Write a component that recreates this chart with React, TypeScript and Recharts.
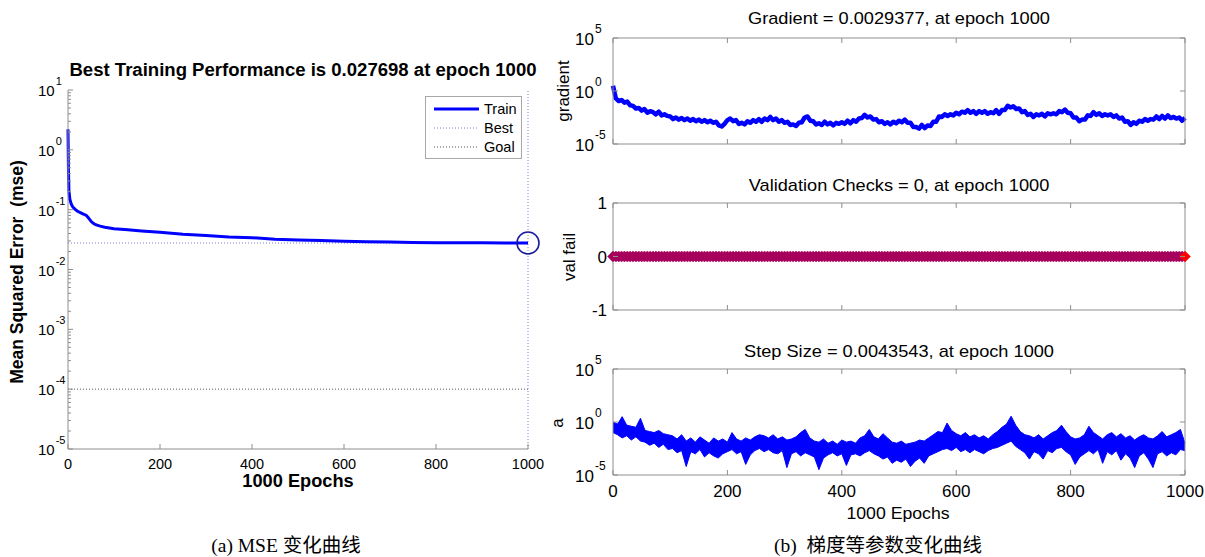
import React from 'react';
import { LineChart, ComposedChart, Line, Area, XAxis, YAxis, ReferenceLine, ReferenceDot } from 'recharts';

const FONT = '"Liberation Sans", Arial, Helvetica, sans-serif';
const SERIF = '"Liberation Serif", "Times New Roman", "Noto Sans CJK SC", serif';
const AXIS_GREY = '#8e8e8e';
const BLUE = '#0000ff';

// (a) training performance
const mseEpochs = [0, 1, 2, 4, 7, 10, 15, 20, 30, 40, 45, 50, 55, 60, 70, 80, 100, 130, 160, 200, 250, 300, 350, 400, 450, 500, 550, 600, 650, 700, 750, 800, 850, 900, 950, 1000];
const mseTrain = [2.2, 0.45, 0.21, 0.15, 0.125, 0.112, 0.102, 0.095, 0.087, 0.08, 0.072, 0.064, 0.059, 0.056, 0.053, 0.051, 0.048, 0.046, 0.044, 0.042, 0.039, 0.037, 0.035, 0.034, 0.032, 0.031, 0.0305, 0.0298, 0.0292, 0.0288, 0.0284, 0.0281, 0.028, 0.0279, 0.0278, 0.027698];
const bestMse = 0.027698;
const bestEpoch = 1000;
const goalMse = 1e-4;

// (b) gradient, log10, one sample every 5 epochs
const gradEvery = 5;
const gradientLog10 = [
  0.5, -0.7, -0.95, -0.85, -1.1, -1.0, -1.35, -1.4, -1.65, -1.6, -1.85, -1.7, -2.05, -1.9, -2.0, -2.2, -1.95, -2.3, -2.2, -2.35,
  -2.4, -2.65, -2.5, -2.7, -2.55, -2.75, -2.6, -2.8, -2.65, -2.85, -2.7, -2.9, -2.75, -2.95, -2.8, -3.0, -2.9, -3.25, -3.35, -3.1,
  -2.75, -2.6, -2.85, -2.75, -3.1, -3.0, -3.15, -2.85, -3.0, -2.75, -2.9, -2.65, -2.9, -2.6, -2.75, -2.45, -2.75, -2.6, -2.9, -2.75,
  -3.0, -2.9, -3.2, -3.15, -3.3, -3.0, -2.95, -2.5, -2.4, -2.8, -2.85, -3.15, -3.05, -3.2, -2.9, -3.15, -3.0, -3.25, -3.0, -3.1,
  -2.95, -3.1, -2.8, -3.05, -2.75, -2.9, -2.6, -2.55, -2.25, -2.5, -2.4, -2.7, -2.65, -2.95, -2.85, -3.1, -2.95, -3.15, -2.9, -3.05,
  -2.8, -2.95, -2.7, -3.0, -3.0, -3.4, -3.4, -3.55, -3.2, -3.5, -3.25, -3.3, -2.9, -2.9, -2.4, -2.45, -2.2, -2.35, -2.2, -2.3,
  -2.05, -2.2, -1.95, -2.05, -1.8, -2.05, -1.9, -2.15, -1.9, -2.05, -1.9, -2.15, -2.0, -2.1, -1.8, -2.15, -1.8, -1.8, -1.4, -1.55,
  -1.45, -1.7, -1.65, -2.0, -1.9, -2.25, -2.15, -2.45, -2.2, -2.3, -2.15, -2.4, -2.1, -2.2, -2.1, -2.2, -1.9, -2.0, -1.75, -2.05,
  -2.1, -2.5, -2.5, -2.85, -2.7, -2.7, -2.3, -2.35, -2.0, -2.25, -2.1, -2.35, -2.2, -2.3, -2.2, -2.45, -2.3, -2.6, -2.5, -2.9,
  -2.85, -3.2, -2.95, -3.1, -2.8, -2.9, -2.65, -2.8, -2.65, -2.7, -2.4, -2.65, -2.35, -2.6, -2.3, -2.55, -2.45, -2.6, -2.5, -2.8,
  -2.53,
];

// (b) step size, log10, upper and lower swing every 8 epochs
const stepEvery = 8;
const stepHighLog10 = [
  0.0, -0.2, 0.5, -0.3, -0.4, -0.5, 0.35, -0.8, -0.9, -1.0, -0.8, -1.1, -1.2,
  -1.3, -1.6, -1.2, -1.8, -1.5, -1.9, -1.4, -1.7, -2.0, -1.5, -1.8, -1.6, -1.9,
  -1.0, -1.6, -1.8, -1.5, -1.7, -1.4, -1.2, -1.3, -1.5, -1.2, -1.6, -1.4, -1.7,
  -1.6, -1.4, -1.0, -0.7, -1.5, -1.8, -1.9, -1.6, -2.0, -1.8, -2.1, -1.7, -1.9,
  -1.8, -2.0, -1.5, -1.3, -0.7, -1.4, -1.6, -1.1, -1.5, -1.9, -2.0, -1.8, -2.1,
  -2.0, -1.9, -1.7, -1.8, -1.5, -1.2, -0.9, -1.0, -0.1, -0.8, -1.1, -1.3, -1.0,
  -1.4, -1.2, -1.5, -1.3, -1.6, -1.2, -0.9, -0.5, -0.2, 0.55, -0.3, -0.9, -1.2,
  -1.3, -1.5, -1.2, -1.6, -1.3, -1.0, -0.8, -0.3, -0.9, -1.4, -1.6, -1.5, -1.2,
  -0.4, -1.0, -1.3, -1.6, -1.2, -1.0, -1.4, -1.1, -1.5, -1.3, -1.7, -1.4, -1.2,
  -1.5, -1.6, -1.3, -0.9, -1.4, -1.2, -1.0, -0.7,
  -2.0,
];
const stepLowLog10 = [
  -1.0, -1.2, -1.5, -1.3, -1.7, -1.4, -1.8, -1.9, -2.2, -2.0, -2.4, -2.1, -2.6,
  -2.5, -2.9, -2.7, -4.2, -2.8, -3.0, -2.6, -3.3, -2.9, -3.2, -3.4, -3.0, -2.8,
  -2.6, -3.0, -2.8, -4.0, -3.1, -2.7, -2.5, -2.8, -2.6, -2.9, -3.0, -2.7, -4.3,
  -3.0, -2.8, -3.2, -2.9, -3.1, -3.3, -4.5, -3.4, -3.1, -2.9, -3.2, -3.0, -4.1,
  -3.1, -3.0, -3.2, -2.9, -2.7, -3.0, -3.2, -3.5, -3.3, -3.9, -3.6, -3.8, -3.5,
  -4.2, -3.7, -3.4, -3.9, -3.2, -3.0, -2.8, -2.6, -2.5, -2.7, -2.4, -2.8, -2.6,
  -2.9, -2.6, -2.8, -3.0, -2.7, -2.5, -2.4, -2.2, -2.0, -1.8, -2.3, -2.6, -2.9,
  -3.5, -2.8, -3.0, -3.5, -2.7, -2.9, -2.5, -2.4, -2.8, -3.1, -4.0, -3.3, -3.0,
  -2.7, -3.0, -2.6, -3.9, -2.8, -3.1, -2.7, -3.6, -3.0, -3.4, -4.3, -3.2, -2.9,
  -3.5, -4.3, -3.0, -2.8, -3.2, -2.9, -3.1, -2.6,
  -2.7,
];

// (b) validation checks, one sample every 5 epochs
const valEvery = 5;
const valFail = [
  0, 0, 0, 0, 0, 0, 0, 0, 0, 0, 0, 0, 0, 0, 0, 0, 0, 0, 0, 0,
  0, 0, 0, 0, 0, 0, 0, 0, 0, 0, 0, 0, 0, 0, 0, 0, 0, 0, 0, 0,
  0, 0, 0, 0, 0, 0, 0, 0, 0, 0, 0, 0, 0, 0, 0, 0, 0, 0, 0, 0,
  0, 0, 0, 0, 0, 0, 0, 0, 0, 0, 0, 0, 0, 0, 0, 0, 0, 0, 0, 0,
  0, 0, 0, 0, 0, 0, 0, 0, 0, 0, 0, 0, 0, 0, 0, 0, 0, 0, 0, 0,
  0, 0, 0, 0, 0, 0, 0, 0, 0, 0, 0, 0, 0, 0, 0, 0, 0, 0, 0, 0,
  0, 0, 0, 0, 0, 0, 0, 0, 0, 0, 0, 0, 0, 0, 0, 0, 0, 0, 0, 0,
  0, 0, 0, 0, 0, 0, 0, 0, 0, 0, 0, 0, 0, 0, 0, 0, 0, 0, 0, 0,
  0, 0, 0, 0, 0, 0, 0, 0, 0, 0, 0, 0, 0, 0, 0, 0, 0, 0, 0, 0,
  0, 0, 0, 0, 0, 0, 0, 0, 0, 0, 0, 0, 0, 0, 0, 0, 0, 0, 0, 0,
  0,
];

const epochTicks = [0, 200, 400, 600, 800, 1000];
const mseDecades = [-5, -4, -3, -2, -1, 0, 1];
const logTicks5 = [1e-5, 1, 1e5];
const valTicks = [-1, 0, 1];

// log axis ticks incl. the minor ones between decades
const mseTicks: number[] = [];
mseDecades.forEach((d) => {
  for (let m = 1; m <= 9; m++) {
    if (d === 1 && m > 1) break;
    mseTicks.push(m * Math.pow(10, d));
  }
});

const mseData = mseEpochs.map((epoch, i) => ({ epoch, train: mseTrain[i] }));
const gradData = gradientLog10.map((v, i) => ({ epoch: i * gradEvery, gradient: Math.pow(10, v) }));
const stepData = stepHighLog10.map((v, i) => ({
  epoch: Math.min(i * stepEvery, 1000),
  step: [Math.pow(10, stepLowLog10[i]), Math.pow(10, v)],
}));
const valData = valFail.map((v, i) => ({ epoch: i * valEvery, val: v }));

const isDecade = (v: number) => {
  const l = Math.log10(v);
  return Math.abs(l - Math.round(l)) < 1e-6;
};

// ---- tick renderers (MATLAB style: ticks point into the plot) ----
const MseYTick = (props: any) => {
  const { x, y, payload } = props;
  const major = isDecade(payload.value);
  const exp = Math.round(Math.log10(payload.value));
  return (
    <g>
      <line x1={x} x2={x + (major ? 5 : 3)} y1={y} y2={y} stroke={AXIS_GREY} strokeWidth={1} />
      {major && (
        <text x={x - 30} y={y + 6} fontSize={15} fontFamily={FONT} fill="#000">
          10<tspan dx={1} dy={-11} fontSize={11}>{exp}</tspan>
        </text>
      )}
    </g>
  );
};

const MseXTick = (props: any) => {
  const { x, y, payload } = props;
  return (
    <g>
      <line x1={x} x2={x} y1={y} y2={y - 5} stroke={AXIS_GREY} />
      <text x={x} y={y + 20} textAnchor="middle" fontSize={14.5} fontFamily={FONT} fill="#000">
        {payload.value}
      </text>
    </g>
  );
};

const BottomTick = (showLabel: boolean) => (props: any) => {
  const { x, y, payload } = props;
  return (
    <g>
      <line x1={x} x2={x} y1={y} y2={y - 5} stroke={AXIS_GREY} />
      {showLabel && (
        <text x={x} y={y + 22} textAnchor="middle" fontSize={17} fontFamily={FONT} fill="#000">
          {payload.value}
        </text>
      )}
    </g>
  );
};

const TopTick = (props: any) => {
  const { x, y } = props;
  return <line x1={x} x2={x} y1={y} y2={y + 5} stroke={AXIS_GREY} />;
};

const RightTick = (props: any) => {
  const { x, y } = props;
  return <line x1={x} x2={x - 5} y1={y} y2={y} stroke={AXIS_GREY} />;
};

const LogYTick = (props: any) => {
  const { x, y, payload } = props;
  const exp = Math.round(Math.log10(payload.value));
  return (
    <g>
      <line x1={x} x2={x + 5} y1={y} y2={y} stroke={AXIS_GREY} />
      <text x={x - 38} y={y + 7} fontSize={17} fontFamily={FONT} fill="#000">
        10<tspan dx={1} dy={-12} fontSize={12}>{exp}</tspan>
      </text>
    </g>
  );
};

const ValYTick = (props: any) => {
  const { x, y, payload } = props;
  return (
    <g>
      <line x1={x} x2={x + 5} y1={y} y2={y} stroke={AXIS_GREY} />
      <text x={x - 6} y={y + 6} textAnchor="end" fontSize={17} fontFamily={FONT} fill="#000">
        {payload.value}
      </text>
    </g>
  );
};

const Diamond = (props: any) => {
  const { cx, cy, index } = props;
  const last = index === valFail.length - 1;
  const r = 5.5;
  const c = last ? '#ff0000' : '#a6005c';
  return (
    <path
      key={`d${index}`}
      d={`M${cx - r},${cy}L${cx},${cy - r}L${cx + r},${cy}L${cx},${cy + r}Z`}
      fill={c}
      stroke={c}
      strokeWidth={0.5}
    />
  );
};

// frame for the right-hand subplots: box with inward ticks on all sides
const frame = (yProps: any, yTick: any, showXLabels: boolean) => [
  <XAxis
    key="xb"
    dataKey="epoch"
    type="number"
    domain={[0, 1000]}
    ticks={epochTicks}
    interval={0}
    height={1}
    tickSize={0}
    tickMargin={0}
    tickLine={false}
    axisLine={{ stroke: AXIS_GREY }}
    tick={BottomTick(showXLabels)}
  />,
  <XAxis
    key="xt"
    xAxisId="top"
    orientation="top"
    dataKey="epoch"
    type="number"
    domain={[0, 1000]}
    ticks={epochTicks}
    interval={0}
    height={1}
    tickSize={0}
    tickMargin={0}
    tickLine={false}
    axisLine={{ stroke: AXIS_GREY }}
    tick={TopTick}
  />,
  <YAxis
    key="yl"
    {...yProps}
    width={40}
    interval={0}
    tickSize={0}
    tickMargin={0}
    tickLine={false}
    axisLine={{ stroke: AXIS_GREY }}
    tick={yTick}
  />,
  <YAxis
    key="yr"
    yAxisId="right"
    orientation="right"
    {...yProps}
    width={1}
    interval={0}
    tickSize={0}
    tickMargin={0}
    tickLine={false}
    axisLine={{ stroke: AXIS_GREY }}
    tick={RightTick}
  />,
];

const logY = { type: 'number', scale: 'log', domain: [1e-5, 1e5], ticks: logTicks5, allowDataOverflow: true };
const linY = { type: 'number', domain: [-1, 1], ticks: valTicks, allowDataOverflow: true };

const Txt = (p: {
  x: number;
  y: number;
  size: number;
  bold?: boolean;
  rotate?: boolean;
  stretch?: number;
  family?: string;
  children: React.ReactNode;
}) => (
  <div
    style={{
      position: 'absolute',
      left: p.x,
      top: p.y,
      transform: `translate(-50%, -50%) scaleX(${p.stretch || 1})${p.rotate ? ' rotate(-90deg)' : ''}`,
      whiteSpace: 'pre',
      fontSize: p.size,
      fontWeight: p.bold ? 700 : 400,
      fontFamily: p.family || FONT,
      lineHeight: 1,
      color: '#000',
    }}
  >
    {p.children}
  </div>
);

const RIGHT_LEFT = 540;
const RIGHT_W = 665;
const rightMargin = (top: number, bottom: number) => ({ top, right: 19, bottom, left: 33 });

export default function App() {
  return (
    <div style={{ position: 'absolute', left: 0, top: 0, width: 1205, height: 557, background: '#fff', overflow: 'hidden' }}>
      {/* (a) MSE */}
      <div style={{ position: 'absolute', left: 0, top: 0 }}>
        <LineChart width={560} height={500} data={mseData} margin={{ top: 90, right: 32, bottom: 20, left: 8 }}>
          <XAxis
            dataKey="epoch"
            type="number"
            domain={[0, 1000]}
            ticks={epochTicks}
            interval={0}
            height={31}
            tickSize={0}
            tickMargin={0}
            tickLine={false}
            axisLine={{ stroke: AXIS_GREY }}
            tick={MseXTick}
          />
          <YAxis
            type="number"
            scale="log"
            domain={[1e-5, 10]}
            ticks={mseTicks}
            allowDataOverflow
            interval={0}
            width={60}
            tickSize={0}
            tickMargin={0}
            tickLine={false}
            axisLine={{ stroke: AXIS_GREY }}
            tick={MseYTick}
          />
          <ReferenceLine y={goalMse} stroke="#555555" strokeDasharray="1 2" strokeWidth={1} />
          <ReferenceLine y={bestMse} stroke="#7a7ad6" strokeDasharray="1 2" strokeWidth={1} />
          <ReferenceLine x={bestEpoch} stroke="#7a7ad6" strokeDasharray="1 2" strokeWidth={1} />
          <Line
            dataKey="train"
            stroke={BLUE}
            strokeWidth={3}
            dot={false}
            type="linear"
            isAnimationActive={false}
          />
          <ReferenceDot x={bestEpoch} y={bestMse} r={11} fill="none" stroke="#1a1aa0" strokeWidth={1.6} />
        </LineChart>
      </div>

      {/* legend of (a) */}
      <div
        style={{
          position: 'absolute',
          left: 425,
          top: 96,
          width: 95,
          height: 61,
          border: '1px solid #a8a8a8',
          background: '#fff',
        }}
      >
        <svg width={95} height={61} style={{ position: 'absolute', left: 0, top: 0 }}>
          <line x1={8} x2={53} y1={12} y2={12} stroke={BLUE} strokeWidth={3} />
          <line x1={8} x2={53} y1={31} y2={31} stroke="#7a7ad6" strokeDasharray="1 2" />
          <line x1={8} x2={53} y1={50} y2={50} stroke="#555555" strokeDasharray="1 2" />
          <text x={58} y={17} fontSize={14.5} fontFamily={FONT}>Train</text>
          <text x={58} y={36} fontSize={14.5} fontFamily={FONT}>Best</text>
          <text x={58} y={55} fontSize={14.5} fontFamily={FONT}>Goal</text>
        </svg>
      </div>

      <Txt x={303} y={71} size={17.5} bold stretch={1.06}>Best Training Performance is 0.027698 at epoch 1000</Txt>
      <Txt x={18} y={272} size={17.5} bold rotate>Mean Squared Error  (mse)</Txt>
      <Txt x={298} y={482} size={17.5} bold stretch={1.04}>1000 Epochs</Txt>

      {/* (b) gradient */}
      <div style={{ position: 'absolute', left: RIGHT_LEFT, top: 0 }}>
        <LineChart width={RIGHT_W} height={160} data={gradData} margin={rightMargin(37, 15)}>
          {frame(logY, LogYTick, false)}
          <Line
            dataKey="gradient"
            stroke={BLUE}
            strokeWidth={4.5}
            strokeLinejoin="round"
            dot={false}
            type="linear"
            isAnimationActive={false}
          />
        </LineChart>
      </div>
      <Txt x={899} y={18} size={17} stretch={1.07}>Gradient = 0.0029377, at epoch 1000</Txt>
      <Txt x={563} y={91} size={17} rotate>gradient</Txt>

      {/* (b) validation checks */}
      <div style={{ position: 'absolute', left: RIGHT_LEFT, top: 160 }}>
        <LineChart width={RIGHT_W} height={170} data={valData} margin={rightMargin(42, 19)}>
          {frame(linY, ValYTick, false)}
          <Line
            dataKey="val"
            stroke="#a6005c"
            strokeWidth={1}
            dot={Diamond}
            type="linear"
            isAnimationActive={false}
          />
        </LineChart>
      </div>
      <Txt x={899} y={185} size={17} stretch={1.07}>Validation Checks = 0, at epoch 1000</Txt>
      <Txt x={569} y={257} size={17} rotate>val fail</Txt>

      {/* (b) step size */}
      <div style={{ position: 'absolute', left: RIGHT_LEFT, top: 330 }}>
        <ComposedChart width={RIGHT_W} height={200} data={stepData} margin={rightMargin(38, 54)}>
          {frame(logY, LogYTick, true)}
          <Area
            dataKey="step"
            stroke={BLUE}
            strokeWidth={1}
            fill={BLUE}
            fillOpacity={1}
            type="linear"
            dot={false}
            activeDot={false}
            isAnimationActive={false}
          />
        </ComposedChart>
      </div>
      <Txt x={899} y={351} size={17} stretch={1.07}>Step Size = 0.0043543, at epoch 1000</Txt>
      <Txt x={557} y={423} size={17} rotate>a</Txt>
      <Txt x={898} y={513} size={17} stretch={1.04}>1000 Epochs</Txt>

      {/* captions */}
      <Txt x={286} y={546} size={19.5} family={SERIF}>(a) MSE 变化曲线</Txt>
      <Txt x={878} y={546} size={19.5} family={SERIF}>(b)  梯度等参数变化曲线</Txt>
    </div>
  );
}
